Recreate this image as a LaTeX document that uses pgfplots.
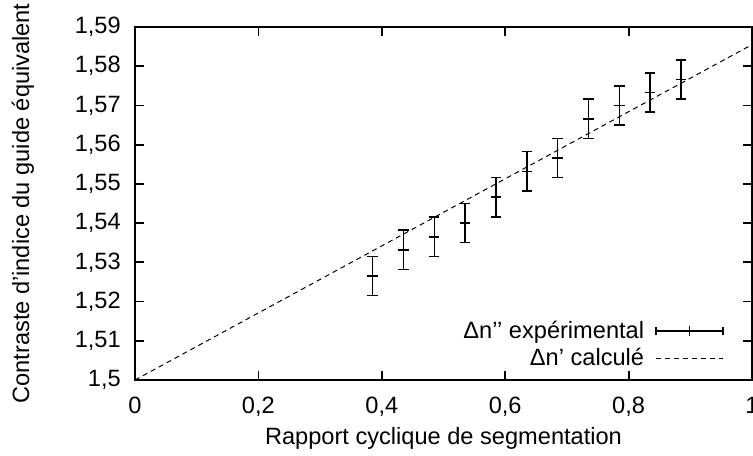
\documentclass[border=0pt]{standalone}
\usepackage{fontspec}
\setmainfont{Liberation Sans}
\usepackage{pgfplots}
\pgfplotsset{compat=1.18}
\begin{document}
\fontsize{11.8}{14}\selectfont
\begin{tikzpicture}
\useasboundingbox (-67.5pt,-37.5pt) rectangle (309pt,190pt);
\begin{axis}[
  at={(0pt,0pt)}, anchor=south west,
  scale only axis, width=308.5pt, height=176.5pt,
  xmin=0, xmax=1, ymin=1.5, ymax=1.59,
  xtick={0,0.2,0.4,0.6,0.8,1},
  xticklabels={0,{0,2},{0,4},{0,6},{0,8},1},
  ytick={1.5,1.51,1.52,1.53,1.54,1.55,1.56,1.57,1.58,1.59},
  yticklabels={{1,5},{1,51},{1,52},{1,53},{1,54},{1,55},{1,56},{1,57},{1,58},{1,59}},
  tick align=inside,
  major tick length=4.5pt,
  axis line style={line width=1pt},
  every tick/.style={black, line width=0.9pt},
  xticklabel style={yshift=-4.5pt},
  yticklabel style={xshift=-3pt},
  xlabel={Rapport cyclique de segmentation},
  ylabel={Contraste d'indice du guide équivalent},
  xlabel style={at={(axis description cs:0.5,0)}, anchor=center, yshift=-29pt},
  ylabel style={at={(axis description cs:-0.1815,0.5)}, anchor=center},
  legend plot pos=right,
  legend cell align=right,
  legend style={draw=none, fill=none, at={(1,0)}, anchor=south east,
    xshift=-11pt, yshift=2pt, row sep=0pt, column sep=4pt,
    nodes={inner sep=1.5pt}},
]
\addplot[black, line width=0.75pt, only marks, mark=+, mark size=2.6pt,
  legend image code/.code={
    \draw[black, line width=0.75pt] (0pt,0pt) -- (33.5pt,0pt);
    \draw[black, line width=0.75pt] (0pt,-2pt) -- (0pt,2pt);
    \draw[black, line width=0.75pt] (33.5pt,-2pt) -- (33.5pt,2pt);
    \draw[black, line width=0.75pt] (16.75pt,-2.6pt) -- (16.75pt,2.6pt);
  },
  error bars/.cd, y dir=both, y explicit,
  error bar style={line width=0.75pt},
  error mark options={rotate=90, mark size=2.6pt, line width=0.75pt},
]
  coordinates {
  (0.385,1.5265) +- (0,0.005)
  (0.435,1.5332) +- (0,0.005)
  (0.485,1.5365) +- (0,0.005)
  (0.535,1.5400) +- (0,0.005)
  (0.585,1.5466) +- (0,0.005)
  (0.635,1.5532) +- (0,0.005)
  (0.685,1.5566) +- (0,0.005)
  (0.735,1.5666) +- (0,0.005)
  (0.785,1.5700) +- (0,0.005)
  (0.835,1.5733) +- (0,0.005)
  (0.885,1.5766) +- (0,0.005)
  };
\addlegendentry{Δn’’ expérimental}
\addplot[black, line width=0.5pt, dash pattern=on 2.5pt off 2pt, mark=none,
  legend image code/.code={\draw[black, line width=0.5pt, dash pattern=on 2.5pt off 2pt] (0pt,0pt) -- (33.5pt,0pt);}]
  coordinates {(0,1.5) (1,1.5855)};
\addlegendentry{Δn’ calculé}
\end{axis}
\end{tikzpicture}
\end{document}
